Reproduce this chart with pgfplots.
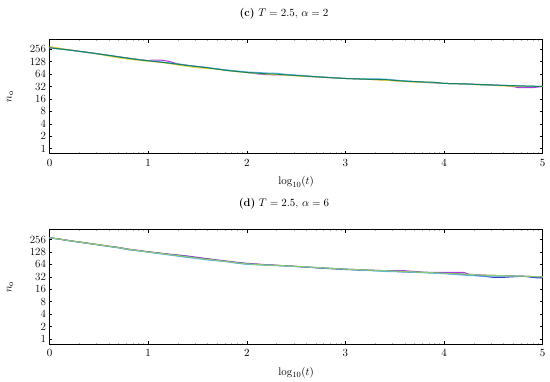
\documentclass[border=0pt]{standalone}
\usepackage{pgfplots}
\pgfplotsset{compat=1.18}
\definecolor{cviol}{RGB}{170,60,225}
\definecolor{ccyan}{RGB}{86,180,233}
\definecolor{cyell}{RGB}{235,210,60}
\definecolor{cgreen}{RGB}{20,130,90}
\definecolor{cblue}{RGB}{40,60,200}
\definecolor{clgreen}{RGB}{140,200,110}
\begin{document}
\begin{tikzpicture}
\useasboundingbox (0pt,0pt) rectangle (550pt,381pt);
% ---------- (c) ----------
\begin{axis}[at={(49.5pt,227pt)},anchor=south west,
  width=493.2pt,height=114.5pt,scale only axis,
  xmin=0,xmax=5,ymode=log,log basis y=2,ymin=0.74,ymax=440,
  xtick={0,1,2,3,4,5},
  minor xtick={0.301,0.477,0.602,0.699,0.778,0.845,0.903,0.954,1.301,1.477,1.602,1.699,1.778,1.845,1.903,1.954,2.301,2.477,2.602,2.699,2.778,2.845,2.903,2.954,3.301,3.477,3.602,3.699,3.778,3.845,3.903,3.954,4.301,4.477,4.602,4.699,4.778,4.845,4.903,4.954},
  ytick={1,2,4,8,16,32,64,128,256},
  yticklabels={1,2,4,8,16,32,64,128,256},
  tick align=inside,
  major tick length=3pt,
  minor tick length=1.5pt,
  axis line style={line width=1pt},
  major tick style={black,line width=0.5pt},
  minor tick style={gray!60,line width=0.4pt},
  ticklabel style={font=\fontsize{11}{13}\selectfont},
  xticklabel style={yshift=-2pt},
  label style={font=\fontsize{11}{13}\selectfont},
  xlabel={$\log_{10}(t)$},
  ylabel={$n_{\mathrm{o}}$},
  xlabel style={at={(axis description cs:0.5,-0.245)},anchor=center},
  ylabel style={at={(axis description cs:-0.08,0.5)},anchor=center},
  every axis plot/.append style={line width=1pt}]
\addplot[cviol] coordinates {(0,280)(0.1,262)(0.2,245)(0.3,228)(0.4,212)(0.5,197)(0.6,182)(0.7,168)(0.8,155)(0.9,143)(1.0,135)(1.05,140)(1.12,140)(1.2,132)(1.3,113)(1.4,104)(1.5,97)(1.6,91)(1.7,85)(1.8,79)(1.9,74)(2.0,70)(2.1,65)(2.2,62)(2.3,61)(2.4,61)(2.6,57)(2.8,53)(3.0,50)(3.2,48)(3.4,46)(3.6,43)(3.8,40.5)(4.0,38)(4.2,37)(4.4,35.5)(4.6,34)(4.7,32)(4.75,30)(4.9,30)(5.0,32)};
\addplot[cyell] coordinates {(0,298)(0.1,272)(0.2,248)(0.3,228)(0.4,210)(0.5,193)(0.6,174)(0.7,158)(0.8,147)(0.9,138)(1.0,131)(1.1,124)(1.2,116)(1.3,106)(1.4,98)(1.5,91)(1.6,87)(1.7,84)(1.8,78)(1.9,73)(2.0,69)(2.2,64)(2.4,60)(2.6,56)(2.8,53)(3.0,50)(3.2,48)(3.4,45)(3.6,42)(3.8,40)(4.0,38)(4.2,36.5)(4.4,34.5)(4.6,33)(4.8,32)(5.0,32)};
\addplot[ccyan] coordinates {(0,276)(0.1,260)(0.2,244)(0.3,228)(0.4,212)(0.5,197)(0.6,182)(0.7,168)(0.8,156)(0.9,145)(1.0,135)(1.1,128)(1.2,120)(1.3,112)(1.4,104)(1.5,98)(1.6,92)(1.7,86)(1.8,80)(1.9,76)(2.0,72)(2.1,70)(2.2,68)(2.3,67)(2.4,63)(2.6,58)(2.8,54)(3.0,50)(3.2,49)(3.4,48.5)(3.5,46)(3.6,44)(3.8,41)(4.0,38)(4.2,37)(4.4,35)(4.6,34)(4.8,33)(5.0,32)};
\addplot[cgreen] coordinates {(0,278)(0.1,261)(0.2,245)(0.3,228)(0.4,212)(0.5,196)(0.6,181)(0.7,167)(0.8,154)(0.9,143)(1.0,134)(1.1,127)(1.2,119)(1.3,111)(1.4,103)(1.5,97)(1.6,91)(1.7,84)(1.8,78)(1.9,74)(2.0,70)(2.2,65)(2.3,64)(2.4,61)(2.6,57)(2.8,53)(3.0,50)(3.2,48)(3.4,47)(3.6,43)(3.8,41)(3.9,40.5)(4.0,38)(4.2,37)(4.4,35.5)(4.6,34)(4.8,33)(5.0,32)};
\end{axis}
\node at (284pt,367pt) {\fontsize{11}{13}\selectfont\textbf{(c)} $T=2.5$, $\alpha=2$};
% ---------- (d) ----------
\begin{axis}[at={(49.5pt,36.7pt)},anchor=south west,
  width=493.2pt,height=114.5pt,scale only axis,
  xmin=0,xmax=5,ymode=log,log basis y=2,ymin=0.74,ymax=440,
  xtick={0,1,2,3,4,5},
  minor xtick={0.301,0.477,0.602,0.699,0.778,0.845,0.903,0.954,1.301,1.477,1.602,1.699,1.778,1.845,1.903,1.954,2.301,2.477,2.602,2.699,2.778,2.845,2.903,2.954,3.301,3.477,3.602,3.699,3.778,3.845,3.903,3.954,4.301,4.477,4.602,4.699,4.778,4.845,4.903,4.954},
  ytick={1,2,4,8,16,32,64,128,256},
  yticklabels={1,2,4,8,16,32,64,128,256},
  tick align=inside,
  major tick length=3pt,
  minor tick length=1.5pt,
  axis line style={line width=1pt},
  major tick style={black,line width=0.5pt},
  minor tick style={gray!60,line width=0.4pt},
  ticklabel style={font=\fontsize{11}{13}\selectfont},
  xticklabel style={yshift=-2pt},
  label style={font=\fontsize{11}{13}\selectfont},
  xlabel={$\log_{10}(t)$},
  ylabel={$n_{\mathrm{o}}$},
  xlabel style={at={(axis description cs:0.5,-0.245)},anchor=center},
  ylabel style={at={(axis description cs:-0.08,0.5)},anchor=center},
  every axis plot/.append style={line width=1pt}]
\addplot[cyell] coordinates {(0,284)(0.1,264)(0.2,244)(0.3,226)(0.4,210)(0.5,194)(0.6,178)(0.7,164)(0.8,150)(0.9,140)(1.0,130)(1.1,122)(1.2,114)(1.3,107)(1.4,100)(1.5,93)(1.6,87)(1.7,81)(1.8,76)(1.9,71)(2.0,67)(2.2,62)(2.4,59)(2.6,55)(2.8,52)(3.0,49)(3.2,46.5)(3.4,44.5)(3.6,43)(3.8,41)(4.0,39)(4.2,37)(4.4,35)(4.6,34)(4.8,33)(5.0,31.5)};
\addplot[cviol] coordinates {(0,282)(0.1,262)(0.2,240)(0.3,222)(0.4,205)(0.5,190)(0.6,176)(0.7,165)(0.8,150)(0.9,139)(1.0,129)(1.1,121)(1.2,114)(1.3,108)(1.4,102)(1.5,95)(1.6,88)(1.7,82)(1.8,77)(1.9,72)(2.0,68)(2.2,63)(2.4,59)(2.6,55)(2.8,52)(3.0,49)(3.2,47)(3.4,45)(3.6,45)(3.7,43)(3.8,41)(4.0,41)(4.2,41)(4.25,37)(4.4,35)(4.6,34)(4.8,33)(5.0,31.5)};
\addplot[cblue] coordinates {(0,282)(0.1,262)(0.2,240)(0.3,222)(0.4,205)(0.5,190)(0.6,175)(0.7,163)(0.8,146)(0.9,137)(1.0,128)(1.1,120)(1.2,112)(1.3,106)(1.4,99)(1.5,91)(1.6,86)(1.7,80)(1.8,75)(1.9,70)(2.0,66)(2.2,62)(2.4,59)(2.6,55)(2.8,51)(3.0,48)(3.2,46)(3.4,44.5)(3.6,42)(3.8,41)(4.0,39)(4.2,37)(4.4,33)(4.5,31)(4.6,31)(4.8,33)(4.95,30)(5.0,30)};
\addplot[ccyan] coordinates {(0,280)(0.1,260)(0.2,239)(0.3,221)(0.4,204)(0.5,189)(0.6,174)(0.7,160)(0.8,146)(0.9,136)(1.0,126)(1.1,117)(1.2,109)(1.3,101)(1.4,94)(1.5,88)(1.6,82)(1.7,78)(1.8,74)(1.9,68)(2.0,64)(2.2,61)(2.4,58)(2.6,55)(2.8,52)(3.0,49)(3.2,46)(3.4,43)(3.6,42)(3.8,40)(4.0,38)(4.2,35)(4.4,33)(4.6,33)(4.8,33)(5.0,32)};
\addplot[clgreen] coordinates {(0,283)(0.1,263)(0.2,241)(0.3,223)(0.4,206)(0.5,191)(0.6,176)(0.7,163)(0.8,149)(0.9,138)(1.0,128)(1.1,120)(1.2,112)(1.3,105)(1.4,98)(1.5,91)(1.6,85)(1.7,80)(1.8,75)(1.9,70)(2.0,66)(2.2,62)(2.4,59)(2.6,56)(2.8,52)(3.0,49)(3.2,47)(3.4,45)(3.6,43)(3.8,41)(4.0,39)(4.2,37)(4.4,35)(4.6,34)(4.8,33)(5.0,32)};
\end{axis}
\node at (284pt,177pt) {\fontsize{11}{13}\selectfont\textbf{(d)} $T=2.5$, $\alpha=6$};
\end{tikzpicture}
\end{document}
